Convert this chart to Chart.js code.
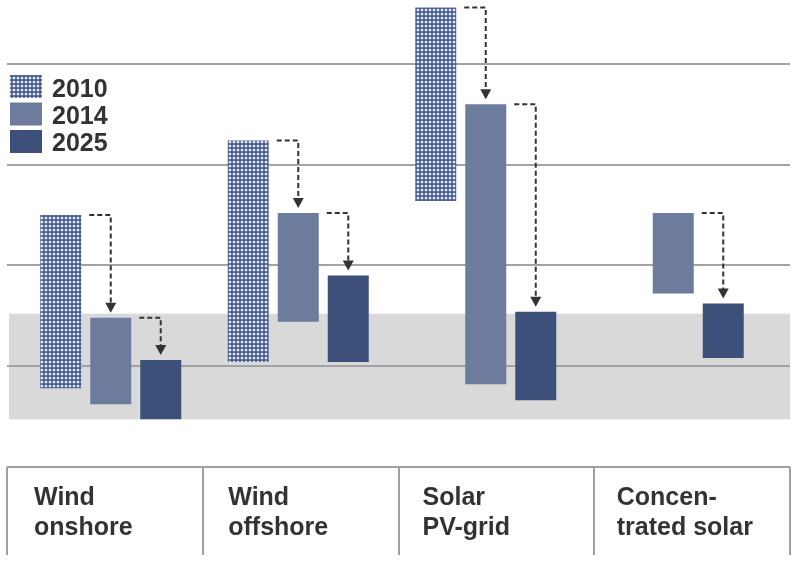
<!DOCTYPE html>
<html>
<head>
<meta charset="utf-8">
<script src="https://cdn.jsdelivr.net/npm/chart.js@4"></script>
<style>
  html, body { margin: 0; padding: 0; background: #fff; }
</style>
</head>
<body>
<canvas id="costChart" width="794" height="563"></canvas>
<script>
const categories = [['Wind', 'onshore'], ['Wind', 'offshore'], ['Solar', 'PV-grid'], ['Concen-', 'trated solar']];
const years = ['2010', '2014', '2025'];
const range2010 = [[39, 125], [52, 162], [132, 228], null];
const range2014 = [[31, 74], [72, 126], [41, 180], [86, 126]];
const range2025 = [[23.5, 53], [52, 95], [33, 77], [54, 81]];
const gridValues = [50, 100, 150, 200];
const bandRange = [23.5, 76];

const FONT = 'bold 25px "Liberation Sans", Arial, sans-serif';
const TEXT = '#333333';

function makeDotPattern() {
  const c = document.createElement('canvas');
  c.width = 4; c.height = 4;
  const g = c.getContext('2d');
  g.fillStyle = '#41578c';
  g.fillRect(0, 0, 4, 4);
  g.fillStyle = '#a9b7d3';
  g.beginPath();
  g.arc(2, 2, 1.6, 0, Math.PI * 2);
  g.fill();
  g.fillStyle = '#ffffff';
  g.beginPath();
  g.arc(2, 2, 0.9, 0, Math.PI * 2);
  g.fill();
  return g.createPattern(c, 'repeat');
}

const dots = makeDotPattern();

// grey band + gridlines across the full width, under the bars
const backdrop = {
  id: 'backdrop',
  beforeDatasetsDraw(chart) {
    const { ctx } = chart;
    const y = chart.scales.y;
    ctx.save();
    const top = y.getPixelForValue(bandRange[1]);
    const bot = y.getPixelForValue(bandRange[0]);
    ctx.fillStyle = '#d9d9d9';
    ctx.fillRect(9, top, 781, bot - top);
    ctx.strokeStyle = '#a2a2a2';
    ctx.lineWidth = 2;
    gridValues.forEach(v => {
      const py = Math.round(y.getPixelForValue(v));
      ctx.beginPath();
      ctx.moveTo(7, py);
      ctx.lineTo(790, py);
      ctx.stroke();
    });
    ctx.restore();
  }
};

// dashed arrows from the top of one bar to the top of the next
const arrows = {
  id: 'arrows',
  afterDatasetsDraw(chart) {
    const { ctx } = chart;
    ctx.save();
    ctx.strokeStyle = '#333';
    ctx.fillStyle = '#333';
    ctx.lineWidth = 2;
    categories.forEach((c, j) => {
      for (let i = 0; i < years.length - 1; i++) {
        if (!chart.data.datasets[i].data[j] || !chart.data.datasets[i + 1].data[j]) continue;
        const prev = chart.getDatasetMeta(i).data[j];
        const next = chart.getDatasetMeta(i + 1).data[j];
        const prevTop = Math.min(prev.y, prev.base);
        const nextTop = Math.min(next.y, next.base);
        const x0 = next.x - next.width / 2 - 1;
        const x1 = next.x;
        const tip = nextTop - 5;
        ctx.setLineDash([5, 3]);
        ctx.beginPath();
        ctx.moveTo(x0, prevTop);
        ctx.lineTo(x1, prevTop);
        ctx.lineTo(x1, tip - 9);
        ctx.stroke();
        ctx.setLineDash([]);
        ctx.beginPath();
        ctx.moveTo(x1 - 5.5, tip - 10);
        ctx.lineTo(x1 + 5.5, tip - 10);
        ctx.lineTo(x1, tip);
        ctx.closePath();
        ctx.fill();
      }
    });
    ctx.restore();
  }
};

// legend at top left and the label table underneath
const frame = {
  id: 'frame',
  afterDraw(chart) {
    const { ctx } = chart;
    ctx.save();
    ctx.font = FONT;
    ctx.textBaseline = 'alphabetic';
    chart.data.datasets.forEach((ds, i) => {
      ctx.fillStyle = ds.backgroundColor;
      ctx.fillRect(10, 75 + i * 27.5, 32, 23);
      ctx.fillStyle = TEXT;
      ctx.fillText(ds.label, 52, 97 + i * 27);
    });

    const left = 7, right = 790, top = 467, bottom = 555;
    const colW = (right - left) / categories.length;
    ctx.strokeStyle = '#a0a0a0';
    ctx.lineWidth = 2;
    ctx.beginPath();
    ctx.moveTo(left, top);
    ctx.lineTo(right, top);
    for (let k = 0; k <= categories.length; k++) {
      const x = Math.round(left + k * colW);
      ctx.moveTo(x, top);
      ctx.lineTo(x, bottom);
    }
    ctx.stroke();
    ctx.fillStyle = TEXT;
    categories.forEach((lines, k) => {
      lines.forEach((t, li) => ctx.fillText(t, left + k * colW + 27 - k * 1.5, 505 + li * 30));
    });
    ctx.restore();
  }
};

new Chart(document.getElementById('costChart'), {
  type: 'bar',
  data: {
    labels: categories.map(c => c.join(' ')),
    datasets: [
      { label: years[0], data: range2010, backgroundColor: dots },
      { label: years[1], data: range2014, backgroundColor: '#6d7c9c' },
      { label: years[2], data: range2025, backgroundColor: '#3d5079' }
    ]
  },
  options: {
    responsive: false,
    animation: false,
    layout: { padding: { left: 17, right: 27, top: 5.6, bottom: 143.6 } },
    datasets: { bar: { barPercentage: 0.82, categoryPercentage: 0.8, borderWidth: 0 } },
    plugins: { legend: { display: false }, tooltip: { enabled: false } },
    scales: {
      x: { display: false },
      y: { display: false, min: 23.5, max: 229 }
    }
  },
  plugins: [backdrop, arrows, frame]
});
</script>
</body>
</html>
